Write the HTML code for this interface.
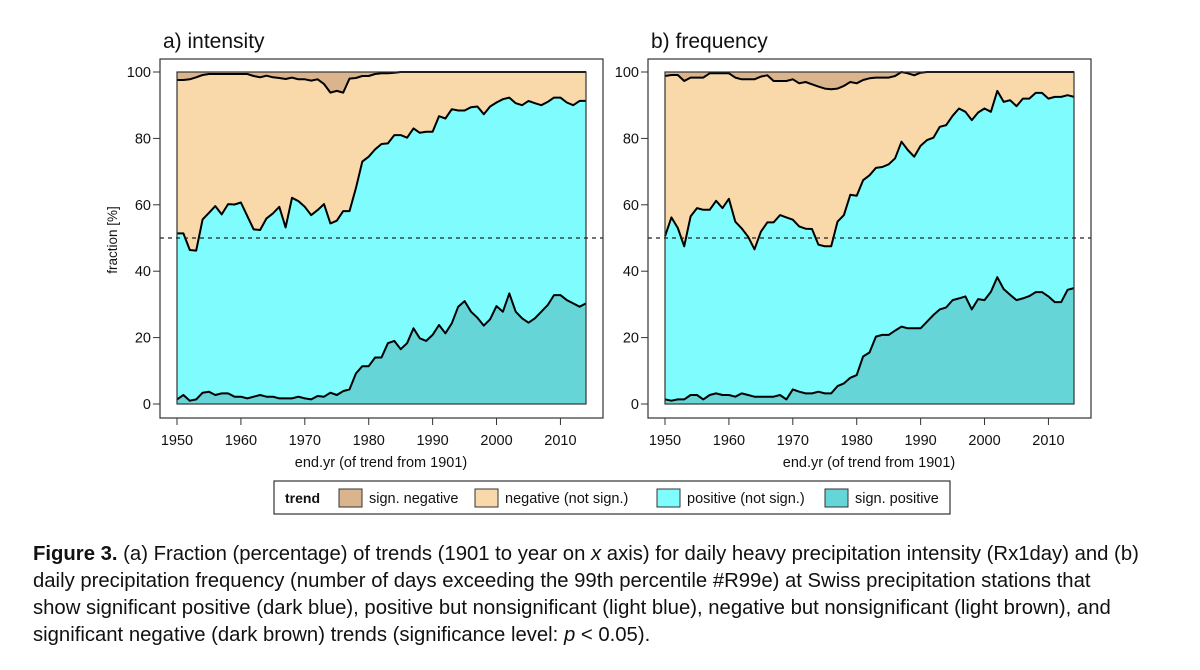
<!DOCTYPE html>
<html><head><meta charset="utf-8"><style>
body{margin:0;background:#fff;width:1200px;height:670px;overflow:hidden;font-family:"Liberation Sans",sans-serif}
svg text{font-family:"Liberation Sans",sans-serif}
.cap{position:absolute;left:33px;font-size:20.3px;white-space:nowrap;color:#111;line-height:27px}
</style></head><body>
<svg id="chart" width="1200" height="530" style="position:absolute;left:0;top:0"></svg>
<div style="position:absolute;left:0;top:541px;width:1200px">
<div class="cap" style="top:0"><b>Figure 3.</b> (a) Fraction (percentage) of trends (1901 to year on <i>x</i> axis) for daily heavy precipitation intensity (Rx1day) and (b)</div>
<div class="cap" style="top:27px">daily precipitation frequency (number of days exceeding the 99th percentile #R99e) at Swiss precipitation stations that</div>
<div class="cap" style="top:54px">show significant positive (dark blue), positive but nonsignificant (light blue), negative but nonsignificant (light brown), and</div>
<div class="cap" style="top:81px">significant negative (dark brown) trends (significance level: <i>p</i> &lt; 0.05).</div>
</div>
<script>
const years0 = 1950;
const xTicks = [1950,1960,1970,1980,1990,2000,2010];
const yTicks = [0,20,40,60,80,100];
// panel a (intensity)
const aSigPos = [1.4,2.7,1,1.4,3.4,3.7,2.7,3.2,3.2,2.2,2.2,1.7,2.2,2.7,2.2,2.2,1.7,1.7,1.7,2.2,1.7,1.4,2.4,2.2,3.4,2.7,3.9,4.4,9.2,11.4,11.4,14,14,18.3,19,16.5,18.3,22.8,19.8,19,20.8,23.8,21.3,24.3,29.3,31,27.8,26,23.6,25.5,29.5,27.8,33.3,27.8,25.8,24.5,25.8,27.8,29.8,32.8,32.8,31.3,30.3,29.3,30.3];
const aAllPos = [51.4,51.4,46.4,46.2,55.6,57.6,59.6,57.1,60.2,60.1,60.7,56.6,52.6,52.4,55.9,57.4,59.4,53.2,62.1,61.1,59.4,56.9,58.4,60.2,54.4,55.2,58.1,58.1,65,73,74.5,76.7,78.3,78.5,81,81,80.2,83,81.7,82,82,86.7,86,88.8,88.4,88.4,89.4,89.6,87.3,89.6,90.8,91.8,92.3,90.6,90,91.3,90.6,90,91,92.3,92.3,90.8,90,91.3,91.3];
const aSigNeg = [2.4,2.4,2.2,1.6,0.9,0.6,0.6,0.6,0.6,0.6,0.6,0.6,1.2,1.6,1.1,1.6,1.8,2.1,1.7,2.2,2.2,2.6,2.2,3.6,6.2,5.7,6.2,2,1.8,1.2,1.2,0.6,0.4,0.4,0.2,0,0,0,0,0,0,0,0,0,0,0,0,0,0,0,0,0,0,0,0,0,0,0,0,0,0,0,0,0,0];
// panel b (frequency)
const bSigPos = [1.4,1,1.4,1.4,2.7,2.7,1.4,2.7,3.2,2.7,2.7,2.2,3.2,2.7,2.2,2.2,2.2,2.2,2.7,1.4,4.4,3.7,3.2,3.2,3.7,3.2,3.2,5.4,6.2,7.9,8.7,14.3,15.5,20.3,20.8,20.8,22.1,23.3,22.8,22.8,22.8,24.8,26.8,28.5,29.1,31.3,31.8,32.4,28.5,31.6,31.3,33.8,38.2,34.6,32.9,31.3,31.8,32.5,33.7,33.7,32.4,30.7,30.7,34.4,34.9];
const bAllPos = [50.5,56.2,53,47.5,56.5,59,58.5,58.5,61.2,59,61.8,54.9,52.9,50.4,46.6,51.9,54.7,54.7,56.9,56.2,55.5,53.5,52.8,52.7,48,47.5,47.5,54.9,56.9,63,62.7,67.4,68.9,71.1,71.4,72.2,74,79,76.5,74.5,77.8,79.5,80.2,83.5,84,86.8,89,88,85.5,87.8,89,88,94.3,91,91.5,89.7,92,92,93.7,93.7,92,92.5,92.5,93,92.5];
const bSigNeg = [1.2,0.9,0.9,2.7,1.7,1.7,1.7,0.4,0.4,0.4,0.4,1.7,2.2,2.2,2.2,1.4,1,2.7,2.7,2.7,2.2,3.4,3,3.7,4.4,5,5.2,5,4.2,3,3.4,2.4,1.9,1.7,1.7,1.7,1.2,0,0.4,1,0.2,0,0,0,0,0,0,0,0,0,0,0,0,0,0,0,0,0,0,0,0,0,0,0,0];

const NS='http://www.w3.org/2000/svg';
const svg=document.getElementById('chart');
function el(tag,attrs,parent){const e=document.createElementNS(NS,tag);for(const k in attrs)e.setAttribute(k,attrs[k]);(parent||svg).appendChild(e);return e;}
const COL={sn:'#dab48c',nn:'#f9d9aa',pn:'#7ffcfd',sp:'#66d5d7'};
const yS=v=>404-v*3.32;
function panel(p,ox,title,sigPos,allPos,sigNeg){
  const g=el('g',{});
  
  
  const x0=ox+17,x1=ox+426;
  const xS=yr=>x0+(yr-1950)*(x1-x0)/64;
  const xs=sigPos.map((_,i)=>xS(years0+i));
  const negB=sigPos.map((_,i)=>100-(sigNeg[i]||0));
  const line=arr=>arr.map((v,i)=>xs[i].toFixed(1)+','+yS(v).toFixed(1)).join(' L');
  const back=arr=>arr.map((v,i)=>[xs[i],yS(v)]).reverse().map(q=>q[0].toFixed(1)+','+q[1].toFixed(1)).join(' L');
  const band=(lo,hi,c,name)=>{const a=el('path',{d:'M'+line(hi)+' L'+back(lo)+' Z',fill:c,stroke:'none'},g);};
  band(sigPos.map(()=>0),sigPos,COL.sp,'area-sign-positive');
  band(sigPos,allPos,COL.pn,'area-positive');
  band(allPos,negB,COL.nn,'area-negative');
  band(negB,sigPos.map(()=>100),COL.sn,'area-sign-negative');
  [sigPos,allPos,negB].forEach((arr,k)=>{const l=el('path',{d:'M'+line(arr),fill:'none',stroke:'#000','stroke-width':2,'stroke-linejoin':'round'},g);});
  el('rect',{x:x0,y:yS(100),width:x1-x0,height:yS(0)-yS(100),fill:'none',stroke:'#333','stroke-width':1.2},g);
  const d=el('line',{x1:ox,x2:ox+443,y1:yS(50),y2:yS(50),stroke:'#222','stroke-dasharray':'4,4','stroke-width':1.2},g);
  
  const fr=el('rect',{x:ox,y:59,width:443,height:359,fill:'none',stroke:'#333','stroke-width':1.2},g);
  
  const t=el('text',{x:ox+3,y:48,'font-size':21,fill:'#111'},g);t.textContent=title;
  
  yTicks.forEach(v=>{el('line',{x1:ox-7,x2:ox,y1:yS(v),y2:yS(v),stroke:'#333'},g);
    const tt=el('text',{x:ox-9,y:yS(v)+5,'font-size':14.5,'text-anchor':'end',fill:'#111'},g);tt.textContent=v;
    });
  xTicks.forEach(v=>{el('line',{x1:xS(v),x2:xS(v),y1:418,y2:425,stroke:'#333'},g);
    const tt=el('text',{x:xS(v),y:445,'font-size':14.5,'text-anchor':'middle',fill:'#111'},g);tt.textContent=v;
    });
  const xl=el('text',{x:ox+221,y:467,'font-size':14.5,'text-anchor':'middle',fill:'#111'},g);xl.textContent='end.yr (of trend from 1901)';
  
}
panel('a',160,'a) intensity',aSigPos,aAllPos,aSigNeg);
panel('b',648,'b) frequency',bSigPos,bAllPos,bSigNeg);
const yl=el('text',{x:0,y:0,'font-size':13.5,'text-anchor':'middle',fill:'#111',transform:'translate(117,240) rotate(-90)'});
yl.textContent='fraction [%]';


const lg=el('g',{});


el('rect',{x:274,y:481,width:676,height:33,fill:'#fff',stroke:'#333','stroke-width':1.2},lg);
const lt=el('text',{x:285,y:503,'font-size':14,'font-weight':'bold',fill:'#111'},lg);lt.textContent='trend';
const items=[['sign. negative',COL.sn,339],['negative (not sign.)',COL.nn,475],['positive (not sign.)',COL.pn,657],['sign. positive',COL.sp,825]];
items.forEach(it=>{const sw=el('rect',{x:it[2],y:489,width:23,height:18,fill:it[1],stroke:'#333'},lg);
  
  const tx=el('text',{x:it[2]+30,y:503,'font-size':14.5,fill:'#111'},lg);tx.textContent=it[0];
  });
</script>
</body></html>
